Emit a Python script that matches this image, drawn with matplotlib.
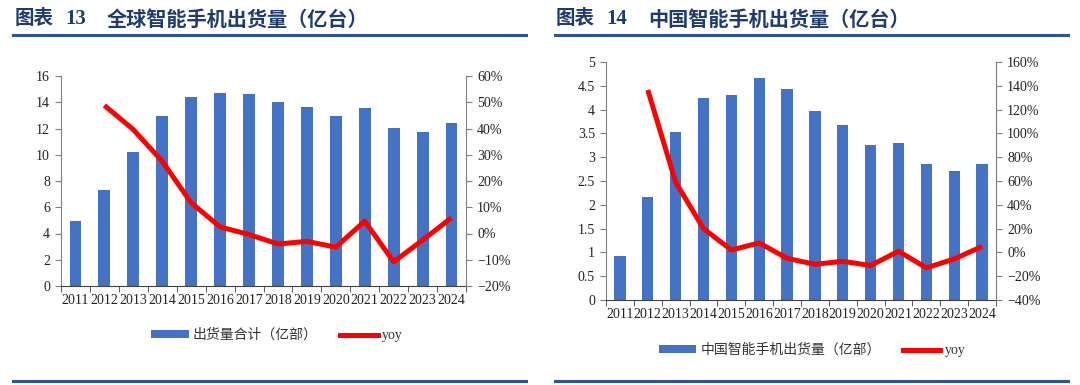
import matplotlib
matplotlib.use("Agg")
import matplotlib.pyplot as plt
from matplotlib.lines import Line2D
from matplotlib.patches import Patch
from matplotlib.ticker import PercentFormatter, FixedLocator, MultipleLocator

years = ["2011", "2012", "2013", "2014", "2015", "2016", "2017", "2018", "2019", "2020", "2021", "2022", "2023", "2024"]

global_ship = [4.93, 7.34, 10.2, 12.95, 14.37, 14.73, 14.65, 14.04, 13.64, 12.93, 13.54, 12.04, 11.71, 12.42]
global_yoy = [None, 48.8, 39.6, 27.5, 11.7, 2.5, -0.4, -4.0, -3.0, -5.2, 4.7, -10.8, -2.5, 6.0]

china_ship = [0.92, 2.17, 3.53, 4.24, 4.31, 4.67, 4.44, 3.97, 3.67, 3.26, 3.29, 2.86, 2.71, 2.86]
china_yoy = [None, 136.5, 59.0, 20.0, 2.0, 8.0, -5.0, -10.0, -7.5, -11.0, 1.0, -13.0, -5.5, 5.0]

title_left = ("图表", "13", "全球智能手机出货量（亿台）")
title_right = ("图表", "14", "中国智能手机出货量（亿台）")
legend_left = "出货量合计（亿部）"
legend_right = "中国智能手机出货量（亿部）"

BAR = "#4472C4"
RED = "#FF0000"
NAVY = "#1F3B70"
RULE = "#2F5597"
SPINE = "#7F7F7F"
SERIF = ["Liberation Serif", "DejaVu Serif"]
CJK = ["Noto Sans CJK SC", "DejaVu Sans"]

W, H = 1080, 385
fig = plt.figure(figsize=(W / 100, H / 100), dpi=100)


def px_axes(x0, y0, x1, y1):
    return fig.add_axes([x0 / W, 1 - y1 / H, (x1 - x0) / W, (y1 - y0) / H])


def panel(ax, ship, yoy, ymax, ystep, rmin, rmax, rstep, ydec):
    x = list(range(len(years)))
    ax.bar(x, ship, width=0.41, color=BAR, zorder=2)
    ax.set_xlim(-0.5, len(years) - 0.5)
    ax.set_ylim(0, ymax)
    ax.yaxis.set_major_locator(MultipleLocator(ystep))
    if ydec:
        ax.yaxis.set_major_formatter(plt.FuncFormatter(lambda v, p: ("%g" % v)))
    ax.set_xticks(x)
    ax.set_xticklabels(years)
    ax.xaxis.set_minor_locator(FixedLocator([i - 0.5 for i in range(len(years) + 1)]))
    ax.tick_params(axis="x", which="major", length=0, pad=6)
    ax.tick_params(axis="x", which="minor", length=4, direction="out", color="#404040")
    ax.tick_params(axis="y", length=4, direction="out", color=SPINE, pad=4)
    for s in ["top", "right"]:
        ax.spines[s].set_visible(False)
    ax.spines["left"].set_color(SPINE)
    ax.spines["bottom"].set_color("#404040")
    for lab in ax.get_xticklabels() + ax.get_yticklabels():
        lab.set_fontfamily(SERIF)
        lab.set_fontsize(10)
        lab.set_color("#222222")

    ax2 = ax.twinx()
    xs = [i for i, v in enumerate(yoy) if v is not None]
    ys = [v for v in yoy if v is not None]
    ax2.plot(xs, ys, color=RED, linewidth=3.6, solid_capstyle="butt", zorder=3)
    ax2.set_ylim(rmin, rmax)
    ax2.yaxis.set_major_locator(MultipleLocator(rstep))
    ax2.yaxis.set_major_formatter(PercentFormatter(decimals=0))
    for s in ["top", "left", "bottom"]:
        ax2.spines[s].set_visible(False)
    ax2.spines["right"].set_color(SPINE)
    ax2.tick_params(axis="y", length=4, direction="out", color=SPINE, pad=4)
    for lab in ax2.get_yticklabels():
        lab.set_fontfamily(SERIF)
        lab.set_fontsize(10)
        lab.set_color("#222222")
    return ax2


axL = px_axes(61, 76, 466, 286)
panel(axL, global_ship, global_yoy, 16, 2, -20, 60, 10, False)

axR = px_axes(606, 62, 996, 300)
panel(axR, china_ship, china_yoy, 5, 0.5, -40, 160, 20, True)


def title(parts, x0):
    y = 1 - 19 / H
    fig.text(x0 / W, y, parts[0], fontfamily=CJK, fontweight="bold",
             fontsize=14, color=NAVY, va="center", ha="left")
    fig.text((x0 + 50) / W, y, parts[1], fontfamily=SERIF, fontweight="bold",
             fontsize=15, color=NAVY, va="center", ha="left")
    fig.text((x0 + 92) / W, y, parts[2], fontfamily=CJK, fontweight="bold",
             fontsize=14.5, color=NAVY, va="center", ha="left")


title(title_left, 15)
title(title_right, 556)

# Rules
for (x0, x1) in [(13, 526), (555, 1068)]:
    for y in (35, 380.5):
        fig.add_artist(Line2D([x0 / W, x1 / W], [1 - y / H, 1 - y / H],
                              color=RULE, linewidth=2.2, transform=fig.transFigure))


# Legends
def make_legend(label, cx, cy, fs):
    handles = [Patch(facecolor=BAR, edgecolor="none"),
               Line2D([0], [0], color=RED, linewidth=3.6)]
    leg = fig.legend(handles, [label, "yoy"], loc="center",
                     bbox_to_anchor=(cx / W, 1 - cy / H), ncol=2, frameon=False,
                     handlelength=2.7, handleheight=0.45, handletextpad=0.3,
                     columnspacing=1.6, prop={"family": CJK, "size": fs})
    for t in leg.get_texts():
        t.set_color("#333333")
    leg.get_texts()[1].set_fontfamily(SERIF)
    leg.get_texts()[1].set_fontsize(10)
    return leg


make_legend(legend_left, 277, 335, 10)
make_legend(legend_right, 812, 350, 10)

fig.savefig("out.png", dpi=100)
